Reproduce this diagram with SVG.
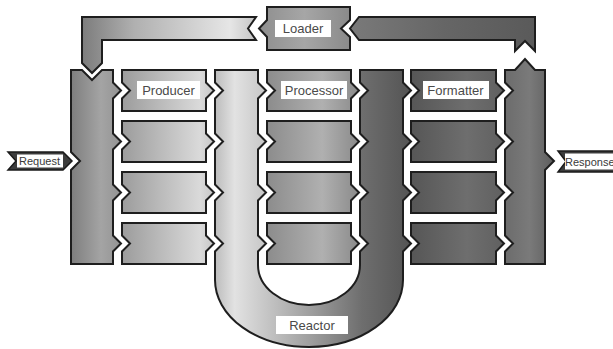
<svg xmlns="http://www.w3.org/2000/svg" width="613" height="349" viewBox="0 0 613 349">
  <defs>
    <linearGradient id="gCol" x1="0" y1="0" x2="1" y2="0">
      <stop offset="0" stop-color="#7e7e7e"/>
      <stop offset="0.6" stop-color="#a4a4a4"/>
      <stop offset="1" stop-color="#939393"/>
    </linearGradient>
    <linearGradient id="gProd" x1="0" y1="0" x2="1" y2="0">
      <stop offset="0" stop-color="#9c9c9c"/>
      <stop offset="0.85" stop-color="#dadada"/>
      <stop offset="1" stop-color="#c6c6c6"/>
    </linearGradient>
    <linearGradient id="gProc" x1="0" y1="0" x2="1" y2="0">
      <stop offset="0" stop-color="#8c8c8c"/>
      <stop offset="0.6" stop-color="#b0b0b0"/>
      <stop offset="1" stop-color="#8a8a8a"/>
    </linearGradient>
    <linearGradient id="gFmt" x1="0" y1="0" x2="1" y2="0">
      <stop offset="0" stop-color="#565656"/>
      <stop offset="0.6" stop-color="#6e6e6e"/>
      <stop offset="1" stop-color="#606060"/>
    </linearGradient>
    <linearGradient id="gOut" x1="0" y1="0" x2="1" y2="0">
      <stop offset="0" stop-color="#6c6c6c"/>
      <stop offset="0.5" stop-color="#7a7a7a"/>
      <stop offset="1" stop-color="#5e5e5e"/>
    </linearGradient>
    <linearGradient id="gU" x1="0" y1="0" x2="1" y2="0">
      <stop offset="0" stop-color="#bcbcbc"/>
      <stop offset="0.1" stop-color="#e2e2e2"/>
      <stop offset="0.22" stop-color="#cdcdcd"/>
      <stop offset="0.5" stop-color="#9c9c9c"/>
      <stop offset="0.75" stop-color="#6e6e6e"/>
      <stop offset="1" stop-color="#545454"/>
    </linearGradient>
    <linearGradient id="gBarL" x1="0" y1="0" x2="1" y2="0">
      <stop offset="0" stop-color="#7c7c7c"/>
      <stop offset="0.3" stop-color="#b0b0b0"/>
      <stop offset="0.85" stop-color="#e6e6e6"/>
      <stop offset="1" stop-color="#c4c4c4"/>
    </linearGradient>
    <linearGradient id="gBarR" x1="0" y1="0" x2="1" y2="0">
      <stop offset="0" stop-color="#7a7a7a"/>
      <stop offset="0.5" stop-color="#666666"/>
      <stop offset="1" stop-color="#5a5a5a"/>
    </linearGradient>
    <linearGradient id="gLoad" x1="0" y1="0" x2="1" y2="0">
      <stop offset="0" stop-color="#8e8e8e"/>
      <stop offset="0.5" stop-color="#a6a6a6"/>
      <stop offset="1" stop-color="#8a8a8a"/>
    </linearGradient>
  </defs>
  <style>
    .sh { stroke: #1e1e1e; stroke-width: 2; stroke-linejoin: miter; }
    .lbl { fill: #ffffff; }
    .t { font-family: "Liberation Sans", Arial, sans-serif; font-size: 13px; fill: #4a4a4a; text-anchor: middle; }
    .ts { font-family: "Liberation Sans", Arial, sans-serif; font-size: 11px; fill: #3a3a3a; }
    .io { fill: #3c3c3c; stroke: #1a1a1a; stroke-width: 1.5; }
  </style>

  <!-- loader feedback bars -->
  <g id="connectors">
    <polygon class="sh" fill="url(#gBarL)" points="82,63 82,17 256,17 248,28.5 256,40 102,40 102,63 92,73"/>
    <polygon class="sh" fill="url(#gBarR)" points="359,17 535,17 535,51 525,41 515,51 515,40 359,40 350,28.5"/>
  </g>

  <g id="loader">
    <polygon class="sh" fill="url(#gLoad)" points="267,7 350,7 350,20 341,28.5 350,37 350,50 267,50 267,37 259,28.5 267,20"/>
    <rect class="lbl" x="275" y="20" width="56" height="17"/>
    <text class="t" x="303" y="33">Loader</text>
  </g>

  <!-- request intake column -->
  <g id="input-column">
    <polygon class="sh" fill="url(#gCol)" points="71,70 82,70 92,80 102,70 113,70 113,82.5 121,90.5 113,98.5 113,133.5 121,141.5 113,149.5 113,184.5 121,192.5 113,200.5 113,235.5 121,243.5 113,251.5 113,264 71,264 71,170 80,161 71,152"/>
  </g>

  <g id="producer">
    <polygon class="sh" fill="url(#gProd)" points="122,70 206,70 206,82.5 214,90.5 206,98.5 206,111 122,111 122,98.5 130,90.5 122,82.5"/>
    <polygon class="sh" fill="url(#gProd)" points="122,121 206,121 206,133.5 214,141.5 206,149.5 206,162 122,162 122,149.5 130,141.5 122,133.5"/>
    <polygon class="sh" fill="url(#gProd)" points="122,172 206,172 206,184.5 214,192.5 206,200.5 206,213 122,213 122,200.5 130,192.5 122,184.5"/>
    <polygon class="sh" fill="url(#gProd)" points="122,223 206,223 206,235.5 214,243.5 206,251.5 206,264 122,264 122,251.5 130,243.5 122,235.5"/>
    <rect class="lbl" x="137" y="81" width="63" height="18"/>
    <text class="t" x="168.5" y="95">Producer</text>
  </g>

  <g id="reactor">
    <path class="sh" fill="url(#gU)" d="M215,70 L258,70 L258,82.5 L266,90.5 L258,98.5 L258,133.5 L266,141.5 L258,149.5 L258,184.5 L266,192.5 L258,200.5 L258,235.5 L266,243.5 L258,251.5 L258,265 A51,40 0 0 0 360,265 L360,251.5 L368,243.5 L360,235.5 L360,200.5 L368,192.5 L360,184.5 L360,149.5 L368,141.5 L360,133.5 L360,98.5 L368,90.5 L360,82.5 L360,70 L403,70 L403,82.5 L411,90.5 L403,98.5 L403,133.5 L411,141.5 L403,149.5 L403,184.5 L411,192.5 L403,200.5 L403,235.5 L411,243.5 L403,251.5 L403,280 A94,67 0 0 1 215,280 L215,251.5 L223,243.5 L215,235.5 L215,200.5 L223,192.5 L215,184.5 L215,149.5 L223,141.5 L215,133.5 L215,98.5 L223,90.5 L215,82.5 Z"/>
    <rect class="lbl" x="276" y="316" width="72" height="18"/>
    <text class="t" x="312" y="330">Reactor</text>
  </g>

  <g id="processor">
    <polygon class="sh" fill="url(#gProc)" points="267,70 351,70 351,82.5 359,90.5 351,98.5 351,111 267,111 267,98.5 275,90.5 267,82.5"/>
    <polygon class="sh" fill="url(#gProc)" points="267,121 351,121 351,133.5 359,141.5 351,149.5 351,162 267,162 267,149.5 275,141.5 267,133.5"/>
    <polygon class="sh" fill="url(#gProc)" points="267,172 351,172 351,184.5 359,192.5 351,200.5 351,213 267,213 267,200.5 275,192.5 267,184.5"/>
    <polygon class="sh" fill="url(#gProc)" points="267,223 351,223 351,235.5 359,243.5 351,251.5 351,264 267,264 267,251.5 275,243.5 267,235.5"/>
    <rect class="lbl" x="281" y="81" width="66" height="18"/>
    <text class="t" x="314" y="95">Processor</text>
  </g>

  <g id="formatter">
    <polygon class="sh" fill="url(#gFmt)" points="411,70 496,70 496,82.5 504,90.5 496,98.5 496,111 411,111 411,98.5 419,90.5 411,82.5"/>
    <polygon class="sh" fill="url(#gFmt)" points="411,121 496,121 496,133.5 504,141.5 496,149.5 496,162 411,162 411,149.5 419,141.5 411,133.5"/>
    <polygon class="sh" fill="url(#gFmt)" points="411,172 496,172 496,184.5 504,192.5 496,200.5 496,213 411,213 411,200.5 419,192.5 411,184.5"/>
    <polygon class="sh" fill="url(#gFmt)" points="411,223 496,223 496,235.5 504,243.5 496,251.5 496,264 411,264 411,251.5 419,243.5 411,235.5"/>
    <rect class="lbl" x="423" y="81" width="66" height="18"/>
    <text class="t" x="455.5" y="95">Formatter</text>
  </g>

  <!-- response output column -->
  <g id="output-column">
    <polygon class="sh" fill="url(#gOut)" points="505,70 515,70 525,59 535,70 545,70 545,152 554,161 545,170 545,264 505,264 505,251.5 513,243.5 505,235.5 505,200.5 513,192.5 505,184.5 505,149.5 513,141.5 505,133.5 505,98.5 513,90.5 505,82.5"/>
  </g>

  <g id="request">
    <polygon class="io" points="8,152 63,152 72,161 63,170 8,170 16,161"/>
    <rect class="lbl" x="17" y="154.5" width="46" height="13"/>
    <text class="ts" x="19" y="165">Request</text>
  </g>

  <g id="response">
    <polygon class="io" points="558,151 625,151 625,172 558,172 566,161.5"/>
    <rect class="lbl" x="565" y="153.5" width="60" height="16"/>
    <text class="ts" x="565" y="165.5">Response</text>
  </g>
</svg>
